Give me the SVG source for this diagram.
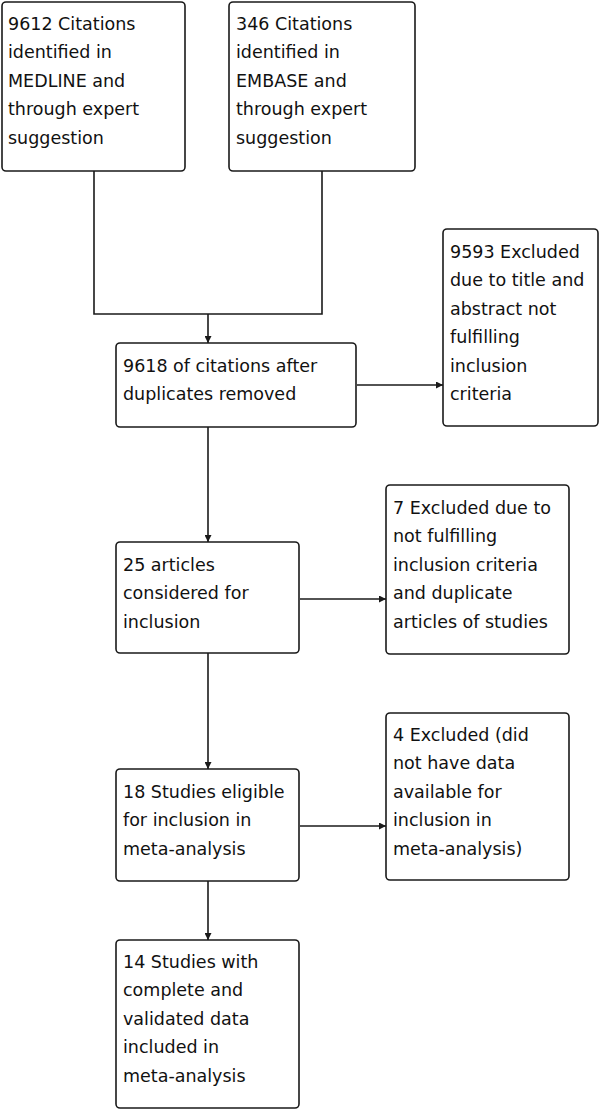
<svg xmlns="http://www.w3.org/2000/svg" width="600" height="1111" viewBox="0 0 600 1111">
<style>
.box{fill:#fff;stroke:#1a1a1a;stroke-width:1.6}
.t{font-family:"DejaVu Sans",Verdana,sans-serif;font-size:17.5px;fill:#111}
.c{fill:none;stroke:#1a1a1a;stroke-width:1.6}
</style>
<defs>
<marker id="ah" viewBox="0 0 10 10" refX="10" refY="5" markerWidth="9" markerHeight="7" markerUnits="userSpaceOnUse" orient="auto">
<path d="M0,0 L10,5 L0,10 z" fill="#1a1a1a"/>
</marker>
</defs>
<rect width="600" height="1111" fill="#fff"/>
<g id="connectors">
<path class="c" d="M94,171 V314 H322 V171"/>
<path class="c" d="M208,314 V343" marker-end="url(#ah)"/>
<path class="c" d="M357,385 H443" marker-end="url(#ah)"/>
<path class="c" d="M208,427 V542" marker-end="url(#ah)"/>
<path class="c" d="M300,599 H386" marker-end="url(#ah)"/>
<path class="c" d="M208,653 V769" marker-end="url(#ah)"/>
<path class="c" d="M300,826 H386" marker-end="url(#ah)"/>
<path class="c" d="M208,881 V940" marker-end="url(#ah)"/>
</g>
<g id="n1">
<rect class="box" x="2" y="2" width="183" height="169" rx="4"/>
<text class="t"><tspan x="8" y="30">9612 Citations</tspan><tspan x="8" y="58.4">identified in</tspan><tspan x="8" y="86.8">MEDLINE and</tspan><tspan x="8" y="115.2">through expert</tspan><tspan x="8" y="143.6">suggestion</tspan></text>
</g>
<g id="n2">
<rect class="box" x="229" y="2" width="186" height="169" rx="4"/>
<text class="t"><tspan x="236" y="30">346 Citations</tspan><tspan x="236" y="58.4">identified in</tspan><tspan x="236" y="86.8">EMBASE and</tspan><tspan x="236" y="115.2">through expert</tspan><tspan x="236" y="143.6">suggestion</tspan></text>
</g>
<g id="n3">
<rect class="box" x="116" y="343" width="240" height="84" rx="4"/>
<text class="t"><tspan x="123" y="372">9618 of citations after</tspan><tspan x="123" y="400.4">duplicates removed</tspan></text>
</g>
<g id="n4">
<rect class="box" x="443" y="229" width="155" height="197" rx="4"/>
<text class="t"><tspan x="450" y="258">9593 Excluded</tspan><tspan x="450" y="286.4">due to title and</tspan><tspan x="450" y="314.8">abstract not</tspan><tspan x="450" y="343.2">fulfilling</tspan><tspan x="450" y="371.6">inclusion</tspan><tspan x="450" y="400">criteria</tspan></text>
</g>
<g id="n5">
<rect class="box" x="116" y="542" width="183" height="111" rx="4"/>
<text class="t"><tspan x="123" y="571">25 articles</tspan><tspan x="123" y="599.4">considered for</tspan><tspan x="123" y="627.8">inclusion</tspan></text>
</g>
<g id="n6">
<rect class="box" x="386" y="485" width="183" height="169" rx="4"/>
<text class="t"><tspan x="393" y="514">7 Excluded due to</tspan><tspan x="393" y="542.4">not fulfilling</tspan><tspan x="393" y="570.8">inclusion criteria</tspan><tspan x="393" y="599.2">and duplicate</tspan><tspan x="393" y="627.6">articles of studies</tspan></text>
</g>
<g id="n7">
<rect class="box" x="116" y="769" width="183" height="112" rx="4"/>
<text class="t"><tspan x="123" y="798">18 Studies eligible</tspan><tspan x="123" y="826.4">for inclusion in</tspan><tspan x="123" y="854.8">meta-analysis</tspan></text>
</g>
<g id="n8">
<rect class="box" x="386" y="713" width="183" height="167" rx="4"/>
<text class="t"><tspan x="393" y="741">4 Excluded (did</tspan><tspan x="393" y="769.4">not have data</tspan><tspan x="393" y="797.8">available for</tspan><tspan x="393" y="826.2">inclusion in</tspan><tspan x="393" y="854.6">meta-analysis)</tspan></text>
</g>
<g id="n9">
<rect class="box" x="116" y="940" width="183" height="168" rx="4"/>
<text class="t"><tspan x="123" y="968">14 Studies with</tspan><tspan x="123" y="996.4">complete and</tspan><tspan x="123" y="1024.8">validated data</tspan><tspan x="123" y="1053.2">included in</tspan><tspan x="123" y="1081.6">meta-analysis</tspan></text>
</g>
</svg>
